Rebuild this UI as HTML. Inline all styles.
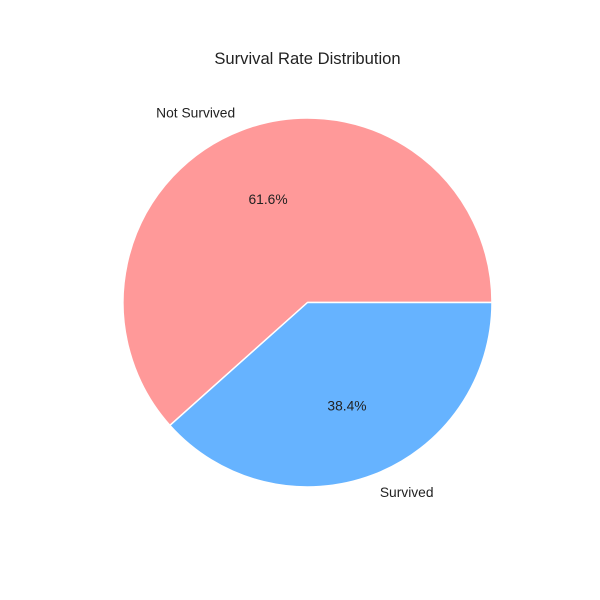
<!DOCTYPE html>
<html>
<head>
<meta charset="utf-8">
<style>
  html, body { margin: 0; padding: 0; background: #ffffff; }
  svg { display: block; font-family: "Liberation Sans", "DejaVu Sans", sans-serif; }
</style>
</head>
<body>
<svg id="chart" width="600" height="600" viewBox="0 0 600 600">
  <rect width="600" height="600" fill="#ffffff"></rect>
  <text x="307.5" y="64" text-anchor="middle" font-size="16.6" fill="#222">Survival Rate Distribution</text>
  <g id="slices"></g>
  <g id="labels"></g>
</svg>
<script>
const categories = ["Not Survived", "Survived"];
const values = [61.6, 38.4];
const colors = ["#ff9999", "#66b3ff"];

const cx = 307.5, cy = 302.5, r = 184.5;
const svgNS = "http://www.w3.org/2000/svg";
const slicesG = document.getElementById("slices");
const labelsG = document.getElementById("labels");
const total = values.reduce((a, b) => a + b, 0);

function pt(angleDeg, rad) {
  const a = angleDeg * Math.PI / 180;
  return [cx + rad * Math.cos(a), cy - rad * Math.sin(a)];
}

let start = 0;
values.forEach((v, i) => {
  const sweep = v / total * 360;
  const end = start + sweep;
  const [x1, y1] = pt(start, r);
  const [x2, y2] = pt(end, r);
  const large = sweep > 180 ? 1 : 0;
  const path = document.createElementNS(svgNS, "path");
  path.setAttribute("d", `M${cx},${cy} L${x1},${y1} A${r},${r} 0 ${large} 0 ${x2},${y2} Z`);
  path.setAttribute("fill", colors[i]);
  path.setAttribute("stroke", "#ffffff");
  path.setAttribute("stroke-width", "1.5");
  path.setAttribute("stroke-linejoin", "round");
  
  
  slicesG.appendChild(path);

  const mid = start + sweep / 2;
  const [lx, ly] = pt(mid, r * 1.1);
  const lab = document.createElementNS(svgNS, "text");
  lab.setAttribute("x", lx);
  lab.setAttribute("y", ly + 4.8);
  lab.setAttribute("font-size", "13.8");
  lab.setAttribute("fill", "#222");
  lab.setAttribute("text-anchor", Math.cos(mid * Math.PI / 180) < 0 ? "end" : "start");
  lab.textContent = categories[i];
  
  
  labelsG.appendChild(lab);

  const [px, py] = pt(mid, r * 0.6);
  const pct = document.createElementNS(svgNS, "text");
  pct.setAttribute("x", px);
  pct.setAttribute("y", py + 4.8);
  pct.setAttribute("font-size", "13.8");
  pct.setAttribute("fill", "#222");
  pct.setAttribute("text-anchor", "middle");
  pct.textContent = (v / total * 100).toFixed(1) + "%";
  
  
  labelsG.appendChild(pct);

  start = end;
});
</script>
</body>
</html>
